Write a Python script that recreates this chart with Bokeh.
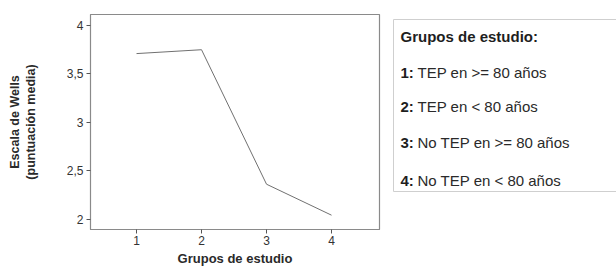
from bokeh.plotting import figure
from bokeh.models import Range1d, FixedTicker, Label
from bokeh.layouts import row
from bokeh.embed import file_html
from bokeh.resources import INLINE

# ---- data ----
groups = [1, 2, 3, 4]
wells_mean = [3.71, 3.75, 2.36, 2.04]
y_ticks = [2, 2.5, 3, 3.5, 4]
y_tick_labels = ["2", "2,5", "3", "3,5", "4"]
x_ticks = [1, 2, 3, 4]
legend_title = "Grupos de estudio:"
legend_nums = ["1:", "2:", "3:", "4:"]
legend_texts = ["TEP en >= 80 años", "TEP en < 80 años",
                "No TEP en >= 80 años", "No TEP en < 80 años"]

FONT = "Liberation Sans"
H = 269
W_MAIN, W_LEG = 392, 224
TOP, BOTTOM = 14, 40

p = figure(width=W_MAIN, height=H, output_backend="svg", toolbar_location=None,
           x_range=Range1d(0.292, 4.738), y_range=Range1d(1.892, 4.114),
           min_border_left=90, min_border_right=13, min_border_top=TOP,
           min_border_bottom=BOTTOM)
p.background_fill_color = "white"
p.border_fill_color = "white"
p.outline_line_color = "#8a8a8a"
p.outline_line_width = 1.2
p.grid.visible = False

p.line(groups, wells_mean, line_color="#707070", line_width=1)

for ax in (p.xaxis[0], p.yaxis[0]):
    ax.axis_line_color = "#8a8a8a"
    ax.major_tick_line_color = "#555555"
    ax.major_tick_in = 0
    ax.major_tick_out = 4
    ax.minor_tick_line_color = None
    ax.major_label_text_font = FONT
    ax.major_label_text_font_size = "12px"
    ax.major_label_text_color = "#333333"
    ax.axis_label_text_font = FONT
    ax.axis_label_text_font_style = "bold"
    ax.axis_label_text_color = "#2a2a2a"

p.yaxis.ticker = FixedTicker(ticks=y_ticks)
p.yaxis.major_label_overrides = {t: l for t, l in zip(y_ticks, y_tick_labels)}
p.yaxis.major_label_standoff = 3
p.yaxis.axis_label = "Escala de Wells\n(puntuación media)"
p.yaxis.axis_label_text_font_size = "12.5px"
p.yaxis.axis_label_text_line_height = 1.15
p.yaxis.axis_label_standoff = 26

p.xaxis.ticker = FixedTicker(ticks=x_ticks)
p.xaxis.axis_label = "Grupos de estudio"
p.xaxis.axis_label_text_font_size = "13px"
p.xaxis.axis_label_standoff = 3
p.xaxis.major_label_standoff = 2

# ---- legend panel (separate figure; its frame is aligned with the main one,
#      so its y range is expressed in page pixels, growing downward) ----
leg = figure(width=W_LEG, height=H, output_backend="svg", toolbar_location=None,
             x_range=Range1d(0, W_LEG), y_range=Range1d(H - BOTTOM, TOP),
             x_axis_location=None, y_axis_location=None,
             min_border_left=0, min_border_right=0,
             min_border_top=TOP, min_border_bottom=BOTTOM)
leg.grid.visible = False
leg.outline_line_color = None
leg.background_fill_color = "white"
leg.border_fill_color = "white"

leg.quad(left=1, right=W_LEG + 20, top=19, bottom=191,
         fill_color="white", line_color="#cfcfcf", line_width=1)

TS = "15px"
leg.add_layout(Label(x=8, y=35.5, text=legend_title, text_font=FONT,
                     text_font_size=TS, text_font_style="bold",
                     text_color="#1e1e1e", text_baseline="middle"))
rows_y = [72, 105.7, 141.7, 180]
for yy, n, t in zip(rows_y, legend_nums, legend_texts):
    leg.add_layout(Label(x=8, y=yy, text=n, text_font=FONT, text_font_size=TS,
                         text_font_style="bold", text_color="#1e1e1e",
                         text_baseline="middle"))
    leg.add_layout(Label(x=25, y=yy, text=t, text_font=FONT, text_font_size=TS,
                         text_color="#2a2a2a", text_baseline="middle"))

layout = row(p, leg)
open("out.html", "w").write(file_html(layout, INLINE))
